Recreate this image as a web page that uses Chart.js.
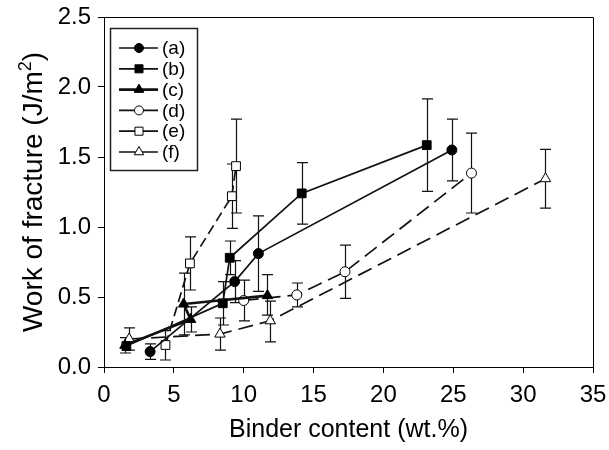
<!DOCTYPE html>
<html>
<head>
<meta charset="utf-8">
<script src="https://cdn.jsdelivr.net/npm/chart.js@4.4.1/dist/chart.umd.min.js"></script>
<style>
  html, body { margin: 0; padding: 0; background: #fff; }
</style>
</head>
<body>
<canvas id="chart" width="609" height="450"></canvas>
<script>
/* ── Data ── */
const LABELS = ['(a)', '(b)', '(c)', '(d)', '(e)', '(f)'];

const A_X  = [3.3, 9.35, 11.05, 24.9];
const A_Y  = [0.11, 0.61, 0.81, 1.55];
const A_LO = [0.055, 0.46, 0.54, 1.33];
const A_HI = [0.165, 0.76, 1.08, 1.77];

const B_X  = [1.6, 8.5, 9.0, 14.15, 23.1];
const B_Y  = [0.15, 0.455, 0.78, 1.24, 1.585];
const B_LO = [null, 0.30, 0.66, 1.02, 1.255];
const B_HI = [null, 0.61, 0.90, 1.46, 1.915];

const C_X  = [1.5, 6.2, 5.7, 11.7];
const C_Y  = [0.155, 0.34, 0.45, 0.51];
const C_LO = [0.10, 0.25, 0.23, 0.37];
const C_HI = [0.21, 0.43, 0.67, 0.66];

const D_X  = [10.0, 13.8, 17.25, 26.3];
const D_Y  = [0.475, 0.515, 0.68, 1.385];
const D_LO = [0.33, 0.43, 0.49, 1.10];
const D_HI = [0.62, 0.60, 0.87, 1.67];

const E_X  = [4.4, 6.15, 9.15, 9.45];
const E_Y  = [0.157, 0.74, 1.22, 1.435];
const E_LO = [0.05, 0.55, 0.99, 1.10];
const E_HI = [0.26, 0.93, 1.45, 1.77];

const F_X  = [1.8, 8.3, 11.9, 31.6];
const F_Y  = [0.20, 0.235, 0.33, 1.345];
const F_LO = [0.12, 0.12, 0.18, 1.135];
const F_HI = [0.28, 0.35, 0.47, 1.555];

const X_MIN = 0, X_MAX = 35, X_STEP = 5;
const Y_MIN = 0, Y_MAX = 2.5, Y_STEP = 0.5;

/* ── Series styles ── */
const SERIES = [
  { x: A_X, y: A_Y, lo: A_LO, hi: A_HI, style: 'circle',   r: 5,   fill: '#000', width: 1.7, dash: [] },
  { x: B_X, y: B_Y, lo: B_LO, hi: B_HI, style: 'rect',     r: 6.2, fill: '#000', width: 1.7, dash: [] },
  { x: C_X, y: C_Y, lo: C_LO, hi: C_HI, style: 'triangle', r: 6,   fill: '#000', width: 2.6, dash: [] },
  { x: D_X, y: D_Y, lo: D_LO, hi: D_HI, style: 'circle',   r: 5,   fill: '#fff', width: 1.7, dash: [15, 7] },
  { x: E_X, y: E_Y, lo: E_LO, hi: E_HI, style: 'rect',     r: 6.2, fill: '#fff', width: 1.7, dash: [10, 5] },
  { x: F_X, y: F_Y, lo: F_LO, hi: F_HI, style: 'triangle', r: 6,   fill: '#fff', width: 1.7, dash: [15, 7] },
];

const FONT = "'Liberation Sans', Arial, sans-serif";

/* ── Error bars, drawn under the lines and markers ── */
const errorBars = {
  id: 'errorBars',
  beforeDatasetsDraw(chart) {
    const { ctx, scales: { x, y } } = chart;
    ctx.save();
    ctx.strokeStyle = '#111';
    ctx.lineWidth = 1.2;
    SERIES.forEach(s => s.x.forEach((xv, i) => {
      if (s.lo[i] == null) return;
      const px = Math.round(x.getPixelForValue(xv)) + 0.5;
      const y1 = y.getPixelForValue(s.lo[i]);
      const y2 = y.getPixelForValue(s.hi[i]);
      ctx.beginPath();
      ctx.moveTo(px, y1); ctx.lineTo(px, y2);
      ctx.moveTo(px - 5.5, y1); ctx.lineTo(px + 5.5, y1);
      ctx.moveTo(px - 5.5, y2); ctx.lineTo(px + 5.5, y2);
      ctx.stroke();
    }));
    ctx.restore();
  }
};

/* ── Y title with a real superscript ── */
const yTitle = {
  id: 'yTitle',
  afterDraw(chart) {
    const { ctx, chartArea: a } = chart;
    const main = 'Work of fracture (J/m', sup = '2', close = ')';
    ctx.save();
    ctx.translate(34, (a.top + a.bottom) / 2);
    ctx.rotate(-Math.PI / 2);
    ctx.fillStyle = '#000';
    ctx.textBaseline = 'middle';
    ctx.font = '28px ' + FONT;
    const w1 = ctx.measureText(main).width, w3 = ctx.measureText(close).width;
    ctx.font = '18px ' + FONT;
    const w2 = ctx.measureText(sup).width;
    let x0 = -(w1 + w2 + w3) / 2;
    ctx.font = '28px ' + FONT;
    ctx.fillText(main, x0, 0);
    ctx.font = '18px ' + FONT;
    ctx.fillText(sup, x0 + w1, -8);
    ctx.font = '28px ' + FONT;
    ctx.fillText(close, x0 + w1 + w2, 0);
    ctx.restore();
  }
};

/* ── Frame + boxed legend inside the plot ── */
const boxLegend = {
  id: 'boxLegend',
  afterDraw(chart) {
    const { ctx, chartArea: a } = chart;
    ctx.save();
    ctx.strokeStyle = '#000';
    ctx.lineWidth = 1;
    ctx.beginPath();
    ctx.moveTo(a.left, a.top + 0.5); ctx.lineTo(a.right + 0.5, a.top + 0.5); ctx.lineTo(a.right + 0.5, a.bottom);
    ctx.stroke();

    ctx.strokeStyle = '#222';
    ctx.lineWidth = 1.5;
    ctx.strokeRect(110.5, 28.5, 87, 142);

    ctx.font = '19px ' + FONT;
    ctx.textBaseline = 'middle';
    SERIES.forEach((s, i) => {
      const yy = 48 + i * 20.8;
      ctx.setLineDash([]);
      ctx.strokeStyle = '#111';
      ctx.lineWidth = s.width;
      ctx.beginPath(); ctx.moveTo(119, yy); ctx.lineTo(158, yy); ctx.stroke();
      ctx.fillStyle = s.fill;
      ctx.strokeStyle = '#000';
      ctx.lineWidth = 1;
      Chart.helpers.drawPoint(ctx, { pointStyle: s.style, radius: s.r - 0.5, rotation: 0, borderWidth: 1 }, 139, yy);
      ctx.fillStyle = '#000';
      ctx.fillText(LABELS[i], 162, yy + 1);
    });
    ctx.restore();
  }
};

/* ── Chart ── */
new Chart(document.getElementById('chart'), {
  type: 'scatter',
  data: {
    datasets: SERIES.map((s, i) => ({
      label: LABELS[i],
      data: s.x.map((xv, k) => ({ x: xv, y: s.y[k] })),
      showLine: true,
      borderColor: '#111',
      borderWidth: s.width,
      borderDash: s.dash,
      pointStyle: s.style,
      pointRadius: s.r,
      pointBackgroundColor: s.fill,
      pointBorderColor: '#000',
      pointBorderWidth: 1,
      tension: 0,
      clip: false
    }))
  },
  options: {
    responsive: false,
    animation: false,
    layout: { padding: { top: 17, right: 16, left: 0, bottom: 0 } },
    plugins: { legend: { display: false }, tooltip: { enabled: false } },
    scales: {
      x: {
        type: 'linear', min: X_MIN, max: X_MAX,
        afterFit: s => { s.height = 83; s.paddingLeft = 0; s.paddingRight = 0; },
        ticks: { stepSize: X_STEP, color: '#000', padding: 8, font: { family: FONT, size: 24 } },
        grid: { drawOnChartArea: false, tickLength: 6, color: '#000' },
        border: { color: '#000', width: 1 },
        title: { display: true, text: 'Binder content (wt.%)', color: '#000', padding: { bottom: 5 }, font: { family: FONT, size: 25 } }
      },
      y: {
        type: 'linear', min: Y_MIN, max: Y_MAX,
        afterFit: s => { s.width = 104; s.paddingTop = 0; s.paddingBottom = 0; },
        ticks: { stepSize: Y_STEP, color: '#000', padding: 7, font: { family: FONT, size: 24 }, callback: v => v.toFixed(1) },
        grid: { drawOnChartArea: false, tickLength: 6, color: '#000' },
        border: { color: '#000', width: 1 }
      }
    }
  },
  plugins: [errorBars, yTitle, boxLegend]
});
</script>
</body>
</html>
